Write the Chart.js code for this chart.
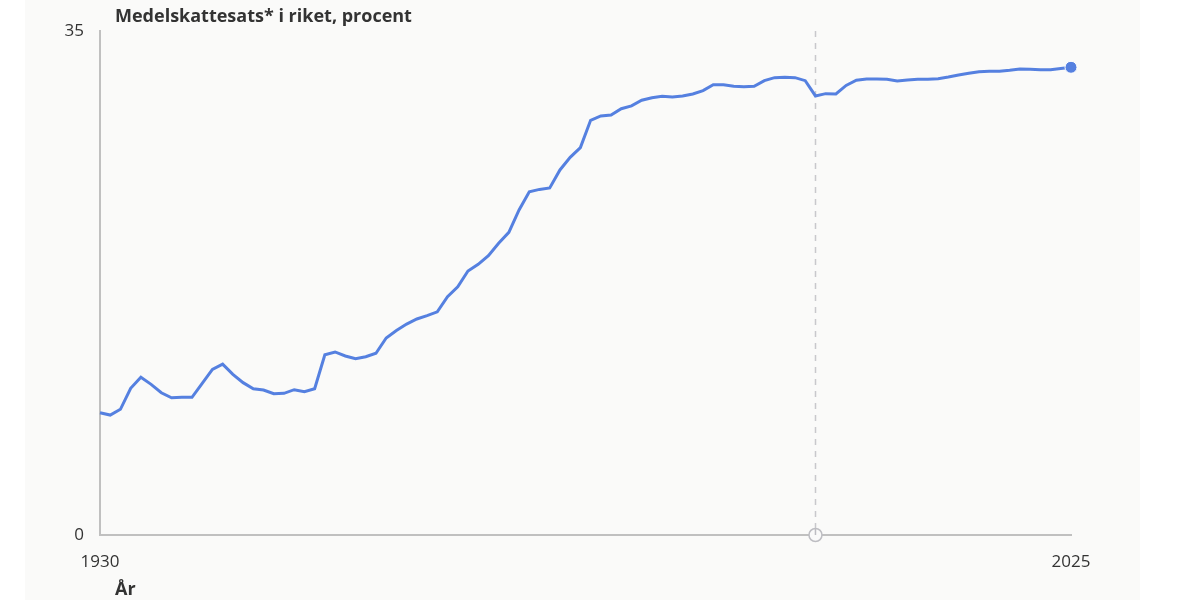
<!DOCTYPE html>
<html>
<head>
<meta charset="utf-8">
<script src="https://cdn.jsdelivr.net/npm/chart.js@4"></script>
<style>
  body { margin: 0; background: #ffffff; }
</style>
</head>
<body>
<canvas id="grafico" width="1200" height="600"></canvas>
<script>
// Medelskattesats i riket, procent (1930-2025)
const forstaAr = 1930;
const skattesats = [
    8.49, 8.33, 8.73, 10.19, 10.95, 10.46, 9.88, 9.53, 9.56, 9.56,
    10.53, 11.5, 11.87, 11.16, 10.58, 10.16, 10.07, 9.81, 9.84, 10.09,
    9.95, 10.16, 12.52, 12.71, 12.43, 12.24, 12.38, 12.62, 13.68, 14.2,
    14.65, 15.0, 15.23, 15.5, 16.55, 17.24, 18.33, 18.8, 19.4, 20.26,
    21.02, 22.57, 23.84, 24.0, 24.1, 25.35, 26.23, 26.9, 28.8, 29.1,
    29.17, 29.6, 29.8, 30.19, 30.37, 30.46, 30.42, 30.49, 30.63, 30.86,
    31.27, 31.27, 31.16, 31.13, 31.16, 31.55, 31.76, 31.78, 31.76, 31.55,
    30.49, 30.65, 30.63, 31.22, 31.58, 31.67, 31.67, 31.65, 31.53, 31.6,
    31.65, 31.65, 31.69, 31.8, 31.94, 32.06, 32.17, 32.2, 32.2, 32.27,
    32.36, 32.34, 32.31, 32.31, 32.4, 32.48
];
const ar = skattesats.map((_, i) => forstaAr + i);
const xTicks = [1930, 2025];
const yTicks = [0, 35];
const markeratAr = 2000;

const titel = 'Medelskattesats* i riket, procent';
const xTitel = 'År';

const blå = '#5580e0';
const font = '"Open Sans", sans-serif';

const punkter = ar.map((a, i) => ({ x: a, y: skattesats[i] }));

// bakgrund, streckad linje, titlar
const ritaExtra = {
    id: 'ritaExtra',
    beforeDraw(chart) {
        const ctx = chart.ctx;
        ctx.save();
        ctx.fillStyle = '#fafaf9';
        ctx.fillRect(25, 0, 1115, 600);
        ctx.restore();
    },
    beforeDatasetsDraw(chart) {
        const ctx = chart.ctx;
        const x = Math.round(chart.scales.x.getPixelForValue(markeratAr)) + 0.5;
        const area = chart.chartArea;
        ctx.save();
        ctx.strokeStyle = '#c8c8cc';
        ctx.lineWidth = 1.5;
        ctx.setLineDash([6, 6]);
        ctx.beginPath();
        ctx.moveTo(x, area.top);
        ctx.lineTo(x, area.bottom);
        ctx.stroke();
        ctx.restore();
    },
    afterDraw(chart) {
        const ctx = chart.ctx;
        const area = chart.chartArea;
        const x = chart.scales.x.getPixelForValue(markeratAr);
        ctx.save();
        // cirkel på x-axeln
        ctx.fillStyle = '#fafaf9';
        ctx.strokeStyle = '#bdbdc2';
        ctx.lineWidth = 1.5;
        ctx.beginPath();
        ctx.arc(x, area.bottom, 6.5, 0, Math.PI * 2);
        ctx.fill();
        ctx.stroke();
        ctx.beginPath();
        ctx.moveTo(x, area.bottom - 6.5);
        ctx.lineTo(x, area.bottom);
        ctx.stroke();

        ctx.fillStyle = '#333333';
        ctx.font = 'bold 18px ' + font;
        ctx.textBaseline = 'middle';
        ctx.textAlign = 'left';
        ctx.fillText(titel, 115, 17);
        ctx.fillText(xTitel, 115, 590);
        ctx.restore();
    }
};

new Chart(document.getElementById('grafico'), {
    type: 'line',
    data: {
        datasets: [{
            label: titel,
            data: punkter,
            borderColor: blå,
            backgroundColor: blå,
            borderWidth: 3,
            tension: 0,
            clip: false,
            pointRadius: punkter.map((_, i) => i === punkter.length - 1 ? 6 : 0),
            pointBorderColor: '#ffffff',
            pointBorderWidth: 1,
            pointHoverRadius: 0
        }]
    },
    options: {
        responsive: false,
        animation: false,
        layout: { padding: { left: 0, right: 129, top: 31, bottom: 0 } },
        plugins: {
            legend: { display: false },
            tooltip: { enabled: false }
        },
        scales: {
            x: {
                type: 'linear',
                min: 1930,
                max: 2025,
                grid: { display: false, drawTicks: false },
                border: { display: true, color: '#c0c0c0', width: 2 },
                afterBuildTicks(scale) { scale.ticks = xTicks.map(v => ({ value: v })); },
                afterFit(scale) { scale.height = 65; },
                ticks: {
                    padding: 17,
                    maxRotation: 0,
                    color: '#333333',
                    font: { family: font, size: 17 },
                    callback: v => String(v)
                }
            },
            y: {
                min: 0,
                max: 35,
                grid: { display: false, drawTicks: false },
                border: { display: true, color: '#c0c0c0', width: 2 },
                afterBuildTicks(scale) { scale.ticks = yTicks.map(v => ({ value: v })); },
                afterFit(scale) { scale.width = 100; },
                ticks: {
                    padding: 16,
                    color: '#333333',
                    font: { family: font, size: 17 },
                    callback: v => String(v)
                }
            }
        }
    },
    plugins: [ritaExtra]
});
</script>
</body>
</html>
